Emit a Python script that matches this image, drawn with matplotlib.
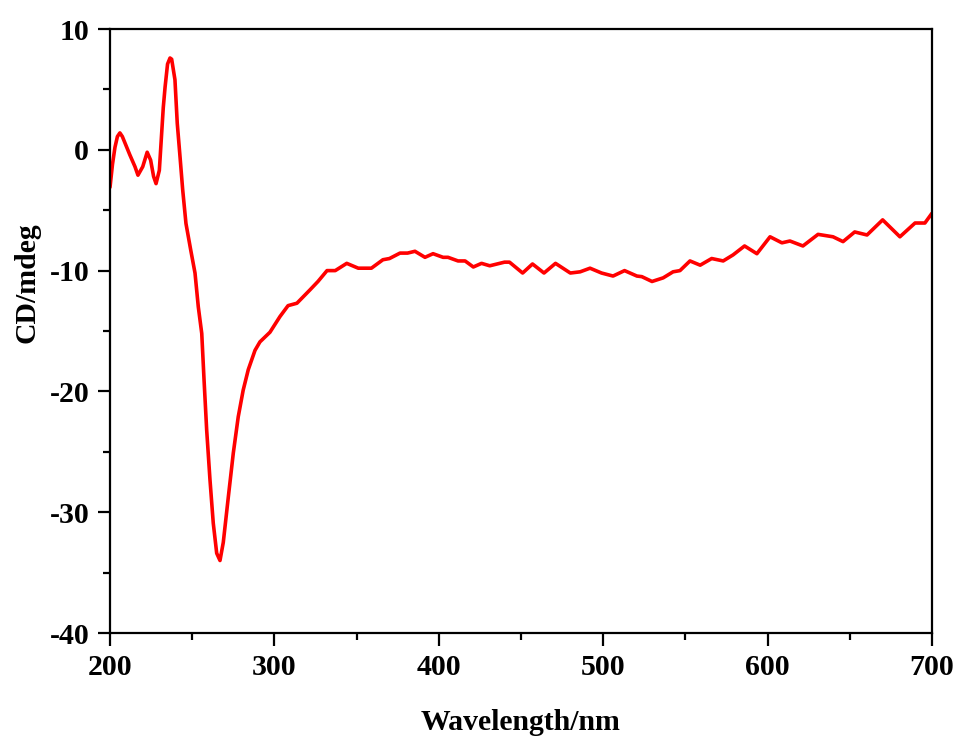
import matplotlib
matplotlib.use("Agg")
import matplotlib.pyplot as plt
from matplotlib.ticker import MultipleLocator

wavelength = [200, 201.5, 203, 204.5, 206, 207.5, 209, 212, 215.2, 217, 219.9, 222.6, 224.7, 226.5,
              228, 230, 232.4, 233.5, 235, 236.5, 237.5, 239.5, 240.9, 242.6, 244.2, 246.2, 249.1,
              251.7, 253.7, 255.8, 257.2, 258.8, 260.8, 262.8, 264.9, 266.9, 268.9, 272, 275, 278,
              281, 284.1, 288.2, 291.2, 297.3, 303.4, 308.3, 313.7, 321.6,
              326.5, 332, 337, 344, 351, 359, 366, 370, 376.4, 381, 385.5, 391.6, 396.5, 402.6,
              405.6, 411.7, 416, 421, 426, 431, 440, 443, 451, 457, 464, 471, 480, 486, 492, 499,
              506, 513, 520.5, 523.5, 529.7, 536.5, 542.5, 546.7, 552.8, 559, 566, 573, 579, 586,
              593.5, 601.5, 608.7, 613.6, 621.5, 630.7, 639.8, 645.9, 653, 660.5, 670, 680.5,
              689.7, 695.7, 700]
cd = [-3.1, -1.2, 0.2, 1.1, 1.4, 1.1, 0.6, -0.4, -1.4, -2.1, -1.4, -0.2, -0.85, -2.2,
      -2.8, -1.7, 3.5, 5.2, 7.1, 7.6, 7.5, 5.8, 2.2, -0.6, -3.3, -6.1, -8.3,
      -10.2, -13.0, -15.2, -19.05, -23.2, -27.3, -30.9, -33.4, -34.0, -32.5, -28.7, -25.1, -22.1,
      -19.9, -18.2, -16.6, -15.9, -15.1, -13.8, -12.9, -12.7, -11.6,
      -10.9, -10.0, -10.0, -9.4, -9.8, -9.8, -9.1, -9.0, -8.55, -8.55, -8.4, -8.9, -8.6, -8.9,
      -8.9, -9.2, -9.2, -9.7, -9.4, -9.6, -9.3, -9.3, -10.2, -9.45, -10.2, -9.4, -10.2, -10.1, -9.8, -10.2,
      -10.45, -10.0, -10.45, -10.5, -10.9, -10.6, -10.1, -10.0, -9.2, -9.55, -9.0, -9.2, -8.7, -7.96,
      -8.6, -7.2, -7.7, -7.55, -7.96, -7.0, -7.2, -7.6, -6.8, -7.05, -5.8, -7.2,
      -6.06, -6.06, -5.25]

x_ticks = [200, 300, 400, 500, 600, 700]
y_ticks = [-40, -30, -20, -10, 0, 10]

plt.rcParams['font.family'] = ['Liberation Serif', 'DejaVu Serif']
plt.rcParams['font.weight'] = 'bold'
plt.rcParams['axes.unicode_minus'] = False

fig = plt.figure(figsize=(9.6, 7.42), dpi=100)
ax = fig.add_axes([0.1146, 0.1469, 0.8562, 0.8140])
ax.plot(wavelength, cd, color='#ff0000', lw=2.6, solid_joinstyle='round', solid_capstyle='round')
ax.set_xlim(200, 700)
ax.set_ylim(-40, 10)
ax.set_xticks(x_ticks)
ax.set_yticks(y_ticks)
ax.xaxis.set_minor_locator(MultipleLocator(50))
ax.yaxis.set_minor_locator(MultipleLocator(5))
ax.tick_params(which='major', direction='out', length=9, width=1.6, labelsize=21.5, pad=6,
               top=False, right=False)
ax.tick_params(which='minor', direction='out', length=5, width=1.6, top=False, right=False)
for lab in ax.get_xticklabels() + ax.get_yticklabels():
    lab.set_fontweight('bold')
for s in ax.spines.values():
    s.set_linewidth(1.6)
ax.set_xlabel('Wavelength/nm', fontsize=21.4, fontweight='bold', labelpad=20)
ax.set_ylabel('CD/mdeg', fontsize=21.4, fontweight='bold')
ax.yaxis.set_label_coords(-0.085, 0.58)
fig.savefig('out.png', dpi=100)
